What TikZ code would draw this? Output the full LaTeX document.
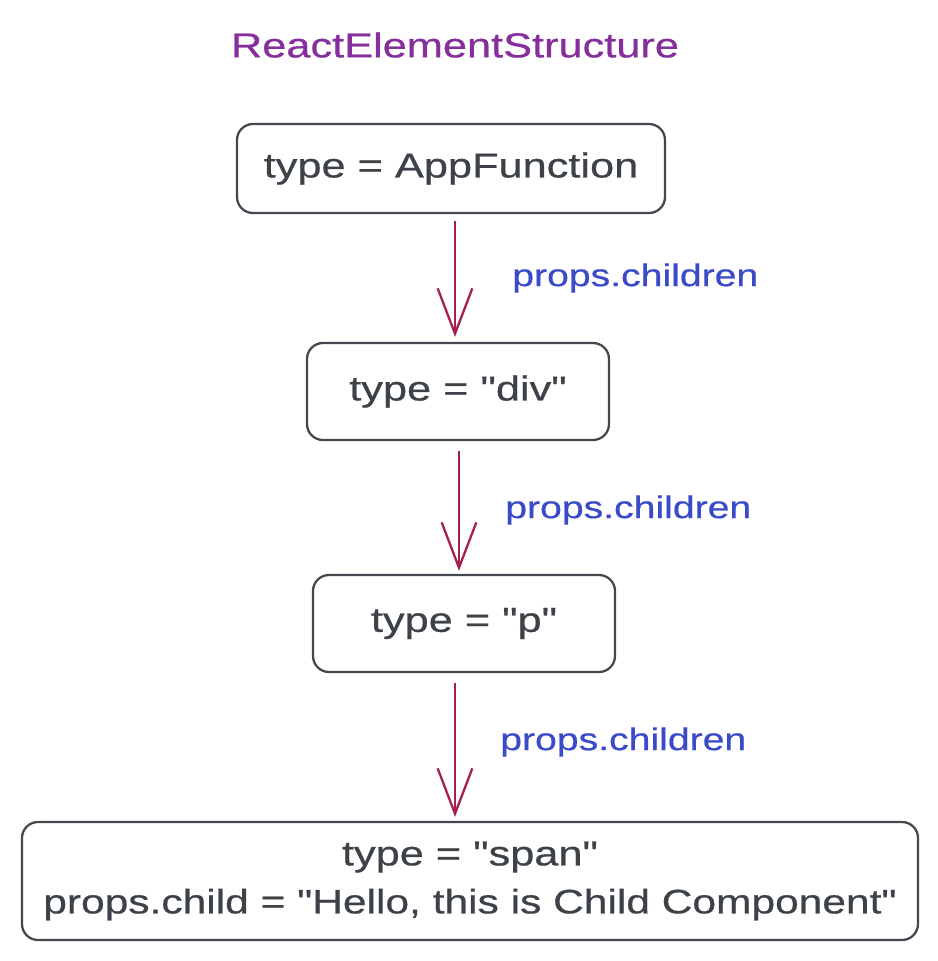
\documentclass[tikz,border=0pt]{standalone}
\usepackage{fontspec}
\setmainfont[FakeStretch=1.25,FakeBold=0.6,Ligatures=TeXOff]{Liberation Sans}
\usetikzlibrary{arrows.meta,calc}
\definecolor{ink}{HTML}{3D4248}
\definecolor{edge}{HTML}{43484F}
\definecolor{crim}{HTML}{A61E4D}
\definecolor{lblue}{HTML}{3B4BC8}
\definecolor{violet}{HTML}{862E9C}
\tikzset{
  elbox/.style={draw=edge, line width=1.7pt, rounded corners=12pt, text=ink,
    font=\fontsize{26pt}{36pt}\selectfont, inner sep=0pt, align=center},
  arr/.style={draw=crim, line width=1.7pt,
    -{Straight Barb[length=34pt,width=26pt,line width=1.7pt]}},
  lbl/.style={text=lblue, anchor=west, font=\fontsize{23.5pt}{28pt}\selectfont, inner sep=0pt},
}
\begin{document}
\begin{tikzpicture}[x=0.75pt,y=-0.75pt]
\useasboundingbox (0,0) rectangle (938,961);
\node[text=violet, font=\fontsize{26pt}{30pt}\selectfont, inner sep=0pt] (title) at (455,45) {ReactElementStructure};
\node[elbox, minimum width=321pt, minimum height=66.75pt] (b1) at (451,168.5) {type = AppFunction};
\node[elbox, minimum width=226.5pt, minimum height=72.75pt] (b2) at (458,391.5) {type = "div"};
\node[elbox, minimum width=226.5pt, minimum height=72.75pt] (b3) at (464,623.5) {type = "p"};
\node[elbox, minimum width=672pt, minimum height=88.5pt] (b4) at (470,881) {type = "span"\\{\fontsize{25.5pt}{36pt}\selectfont props.child = "Hello, this is Child Component"}};
\draw[arr] ($(b1.south)+(4,7)$) -- ($(b2.north)+(-3,-5)$);
\draw[arr] ($(b2.south)+(1,10)$) -- ($(b3.north)+(-5,-3)$);
\draw[arr] ($(b3.south)+(-9,10)$) -- ($(b4.north)+(-15,-4)$);
\node[lbl] (l1) at (512,278) {props.children};
\node[lbl] (l2) at (505,510) {props.children};
\node[lbl] (l3) at (500,742) {props.children};
\end{tikzpicture}
\end{document}
